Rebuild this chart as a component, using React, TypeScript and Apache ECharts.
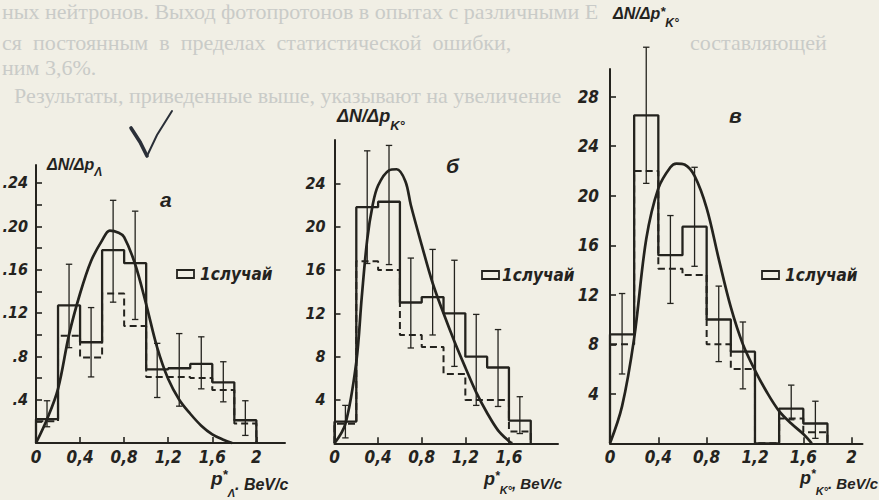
import React, { useEffect, useRef } from 'react';
import * as echarts from 'echarts';

// ---------- Panel а : Λ ----------
const binEdgesA = [0, 0.2, 0.4, 0.6, 0.8, 1.0, 1.2, 1.4, 1.6, 1.8, 2.0];
const solidA = [0.022, 0.127, 0.093, 0.178, 0.166, 0.068, 0.069, 0.073, 0.056, 0.021];
const dashedA = [0.02, 0.099, 0.079, 0.138, 0.108, 0.061, 0.061, 0.06, 0.049, 0.018];
const errXA = [0.1, 0.3, 0.5, 0.7, 0.9, 1.1, 1.3, 1.5, 1.7, 1.9];
const errLoA = [0.015, 0.088, 0.061, 0.13, 0.114, 0.042, 0.034, 0.05, 0.038, 0.007];
const errHiA = [0.039, 0.165, 0.125, 0.224, 0.214, 0.092, 0.101, 0.098, 0.075, 0.039];
const curveXA = [0, 0.1, 0.2, 0.3, 0.4, 0.5, 0.6, 0.67, 0.75, 0.8, 0.9, 1.0, 1.1, 1.2, 1.3, 1.4, 1.5, 1.6, 1.7, 1.78];
const curveYA = [0, 0.022, 0.05, 0.1, 0.138, 0.168, 0.187, 0.196, 0.194, 0.19, 0.165, 0.128, 0.088, 0.059, 0.04, 0.027, 0.016, 0.008, 0.003, 0];
const xTickValsA = [0.4, 0.8, 1.2, 1.6, 2.0];
const xLabelValsA = [0, 0.4, 0.8, 1.2, 1.6, 2.0];
const xLabelsA = ['0', '0,4', '0,8', '1,2', '1,6', '2'];
const yTickValsA = [0.02, 0.04, 0.06, 0.08, 0.1, 0.12, 0.14, 0.16, 0.18, 0.2, 0.22, 0.24];
const yLabelValsA = [0.04, 0.08, 0.12, 0.16, 0.2, 0.24];
const yLabelsA = ['.4', '.8', '.12', '.16', '.20', '.24'];

// ---------- Panel б : K° (ΛK°) ----------
const binEdgesB = [0, 0.2, 0.4, 0.6, 0.8, 1.0, 1.2, 1.4, 1.6, 1.8];
const solidB = [2.0, 21.8, 22.3, 13.0, 13.5, 12.0, 8.0, 7.0, 2.1];
const dashedB = [1.8, 16.8, 16.0, 10.0, 8.9, 6.4, 4.0, 4.0, 1.1];
const errXB = [0.1, 0.3, 0.5, 0.7, 0.9, 1.1, 1.3, 1.5, 1.7];
const errLoB = [0.5, 16.6, 16.5, 8.8, 10.0, 7.1, 3.5, 3.4, 0.9];
const errHiB = [3.5, 27.0, 27.5, 17.1, 17.9, 16.9, 11.9, 10.5, 4.3];
const curveXB = [0, 0.1, 0.2, 0.25, 0.3, 0.35, 0.4, 0.5, 0.57, 0.65, 0.7, 0.8, 0.9, 1.0, 1.1, 1.2, 1.3, 1.4, 1.5, 1.6, 1.63];
const curveYB = [0, 1.8, 7.5, 13.5, 18.8, 22.0, 23.8, 25.2, 25.3, 24.2, 22.0, 18.3, 14.8, 12.0, 9.4, 7.0, 4.7, 2.8, 1.2, 0.2, 0];
const xTickValsB = [0.4, 0.8, 1.2, 1.6];
const xLabelValsB = [0, 0.4, 0.8, 1.2, 1.6];
const xLabelsB = ['0', '0,4', '0,8', '1,2', '1,6'];
const yTickValsB = [4, 8, 12, 16, 20, 24];
const yLabelsB = ['4', '8', '12', '16', '20', '24'];

// ---------- Panel в : K° (K°K°) ----------
const binEdgesC = [0, 0.2, 0.4, 0.6, 0.8, 1.0, 1.2, 1.4, 1.6, 1.8];
const solidC = [8.8, 26.5, 15.2, 17.5, 10.0, 7.4, 0, 2.8, 1.6];
const dashedC = [8.0, 22.0, 14.1, 13.6, 8.0, 6.0, 0, 2.0, 0.9];
const errXC = [0.1, 0.3, 0.5, 0.7, 0.9, 1.1, 1.5, 1.7];
const errLoC = [5.6, 21.0, 11.3, 14.3, 6.6, 4.4, 1.9, 0.4];
const errHiC = [12.1, 32.0, 18.4, 22.3, 12.7, 9.8, 4.7, 3.4];
const curveXC = [0, 0.1, 0.2, 0.3, 0.4, 0.5, 0.55, 0.62, 0.7, 0.8, 0.9, 1.0, 1.1, 1.2, 1.3, 1.4, 1.5, 1.6, 1.67];
const curveYC = [0, 3.0, 8.5, 16.5, 20.6, 22.3, 22.6, 22.5, 21.6, 19.0, 14.9, 11.0, 8.0, 5.9, 4.1, 2.6, 1.6, 0.75, 0];
const xTickValsC = [0.4, 0.8, 1.2, 1.6, 2.0];
const xLabelValsC = [0, 0.4, 0.8, 1.2, 1.6, 2.0];
const xLabelsC = ['0', '0,4', '0,8', '1,2', '1,6', '2'];
const yTickValsC = [4, 8, 12, 16, 20, 24, 28];
const yLabelsC = ['4', '8', '12', '16', '20', '24', '28'];

const legendText = '1случай';

const INK = '#24231e';
const PAPER = '#f1efe5';
const GHOST = '#c9cbc8';
const NARROW = '"Liberation Sans Narrow","DejaVu Sans Condensed",sans-serif';
const SANS = '"Liberation Sans","DejaVu Sans",sans-serif';
const SERIF = '"Liberation Serif","DejaVu Serif",serif';

function labelFor(v: number, vals: number[], labels: string[]) {
  const i = vals.findIndex((t) => Math.abs(t - v) < 1e-6);
  return i >= 0 ? labels[i] : '';
}

function stepData(edges: number[], vals: number[]) {
  const d: number[][] = [[edges[0], 0]];
  vals.forEach((v, i) => d.push([edges[i], v]));
  d.push([edges[vals.length], 0]);
  return d;
}

function xAxisOf(gi: number, max: number, tickVals: number[], labelVals: number[], labels: string[]) {
  return {
    type: 'value', gridIndex: gi, min: 0, max, interval: 0.2,
    axisLine: { show: true, onZero: false, lineStyle: { color: INK, width: 2 } },
    axisTick: { show: true, inside: true, length: 6, customValues: tickVals, lineStyle: { color: INK, width: 1.6 } },
    axisLabel: {
      show: true, customValues: labelVals, margin: 7, showMaxLabel: true, showMinLabel: true, hideOverlap: false,
      formatter: (v: number) => labelFor(v, labelVals, labels),
      color: INK, fontSize: 17, lineHeight: 14, fontFamily: NARROW, fontStyle: 'italic', fontWeight: 'bold',
    },
    splitLine: { show: false },
  };
}

function yAxisOf(gi: number, max: number, interval: number, tickVals: number[], labelVals: number[], labels: string[], size: number, margin: number) {
  return {
    type: 'value', gridIndex: gi, min: 0, max, interval,
    axisLine: { show: true, onZero: false, lineStyle: { color: INK, width: 2 } },
    axisTick: { show: true, inside: true, length: 6, customValues: tickVals, lineStyle: { color: INK, width: 1.6 } },
    axisLabel: {
      show: true, customValues: labelVals, margin, showMaxLabel: true, showMinLabel: true, hideOverlap: false,
      formatter: (v: number) => labelFor(v, labelVals, labels),
      color: INK, fontSize: size, fontFamily: NARROW, fontStyle: 'italic', fontWeight: 'bold',
    },
    splitLine: { show: false },
  };
}

function errRender(params: any, api: any) {
  const x = api.value(0);
  const lo = api.value(1);
  const hi = api.value(2);
  const p1 = api.coord([x, hi]);
  const p2 = api.coord([x, lo]);
  const w = 3.2;
  const style = { stroke: INK, lineWidth: 1.3 };
  return {
    type: 'group',
    children: [
      { type: 'line', shape: { x1: p1[0], y1: p1[1], x2: p2[0], y2: p2[1] }, style },
      { type: 'line', shape: { x1: p1[0] - w, y1: p1[1], x2: p1[0] + w, y2: p1[1] }, style },
      { type: 'line', shape: { x1: p2[0] - w, y1: p2[1], x2: p2[0] + w, y2: p2[1] }, style },
    ],
  };
}

function panelSeries(gi: number, edges: number[], solid: number[], dashed: number[], ex: number[], elo: number[], ehi: number[], cx: number[], cy: number[]) {
  return [
    {
      type: 'line', xAxisIndex: gi, yAxisIndex: gi, step: 'end', symbol: 'none', clip: false,
      data: stepData(edges, solid), lineStyle: { color: INK, width: 2.3 }, z: 3,
    },
    {
      type: 'line', xAxisIndex: gi, yAxisIndex: gi, step: 'end', symbol: 'none', clip: false,
      data: stepData(edges, dashed), lineStyle: { color: INK, width: 2, type: [7, 4] }, z: 3,
    },
    {
      type: 'custom', xAxisIndex: gi, yAxisIndex: gi, clip: false, renderItem: errRender,
      encode: { x: 0, y: [1, 2] },
      data: ex.map((x, i) => [x, elo[i], ehi[i]]), z: 4,
    },
    {
      type: 'line', xAxisIndex: gi, yAxisIndex: gi, smooth: 0.35, symbol: 'none', clip: false,
      data: cx.map((x, i) => [x, cy[i]]), lineStyle: { color: INK, width: 2.7 }, z: 5,
    },
  ];
}

const tok = (size: number, pad: number, family = SANS) => ({
  fontSize: size, fontFamily: family, fontStyle: 'italic', fontWeight: 'bold', fill: INK,
  padding: [pad, 0, 0, 0], verticalAlign: 'top',
});

function txt(x: number, y: number, text: string, size: number, o: any = {}) {
  return {
    type: 'text', x, y, silent: true, z: o.z ?? 20,
    style: {
      text, fontSize: size, fontFamily: o.family || NARROW,
      fontStyle: o.italic === false ? 'normal' : 'italic',
      fontWeight: o.weight || 'bold', fill: o.fill || INK,
      textAlign: 'left', align: 'left',
      textVerticalAlign: o.valign || 'middle', verticalAlign: o.valign || 'middle',
      rich: o.rich,
    },
  };
}

function richTxt(x: number, y: number, text: string, rich: any) {
  return txt(x, y, text, 16, { family: SANS, valign: 'top', rich });
}

function ghost(x: number, y: number, text: string, size: number) {
  return txt(x, y, text, size, { family: SERIF, italic: false, weight: 'normal', fill: GHOST, z: 0 });
}

function legendBox(x: number, y: number) {
  return {
    type: 'rect', silent: true, z: 20,
    shape: { x, y, width: 17, height: 8 },
    style: { fill: 'none', stroke: INK, lineWidth: 1.8 },
  };
}

export default function App() {
  const ref = useRef<HTMLDivElement>(null);

  useEffect(() => {
    if (!ref.current) return;
    const chart = echarts.init(ref.current, null, { renderer: 'svg', width: 879, height: 500 });

    const option: any = {
      animation: false,
      backgroundColor: PAPER,
      grid: [
        { left: 36, top: 165, width: 249, height: 278, containLabel: false, outerBoundsMode: 'none' },
        { left: 334.5, top: 140, width: 223.5, height: 303.3, containLabel: false, outerBoundsMode: 'none' },
        { left: 610, top: 69, width: 252.5, height: 374.3, containLabel: false, outerBoundsMode: 'none' },
      ],
      xAxis: [
        xAxisOf(0, 2.26, xTickValsA, xLabelValsA, xLabelsA),
        xAxisOf(1, 2.05, xTickValsB, xLabelValsB, xLabelsB),
        xAxisOf(2, 2.09, xTickValsC, xLabelValsC, xLabelsC),
      ],
      yAxis: [
        yAxisOf(0, 0.2566, 0.02, yTickValsA, yLabelValsA, yLabelsA, 16, 8),
        yAxisOf(1, 28, 4, yTickValsB, yTickValsB, yLabelsB, 16, 9),
        yAxisOf(2, 30.24, 4, yTickValsC, yTickValsC, yLabelsC, 17, 11),
      ],
      series: [
        ...panelSeries(0, binEdgesA, solidA, dashedA, errXA, errLoA, errHiA, curveXA, curveYA),
        ...panelSeries(1, binEdgesB, solidB, dashedB, errXB, errLoB, errHiB, curveXB, curveYB),
        ...panelSeries(2, binEdgesC, solidC, dashedC, errXC, errLoC, errHiC, curveXC, curveYC),
      ],
      graphic: [
        // faint show-through text of the scanned page (top band)
        ghost(2, 11, 'ных нейтронов. Выход фотопротонов в опытах с различными E', 22),
        ghost(2, 42, 'ся  постоянным  в  пределах  статистической  ошибки,', 22),
        ghost(690, 42, 'составляющей', 22),
        ghost(2, 67, 'ним 3,6%.', 22),
        ghost(14, 95, 'Результаты, приведенные выше, указывают на увеличение', 22),

        // hand-drawn check mark
        {
          type: 'polyline', silent: true, z: 20,
          shape: { points: [[131, 128], [140, 142], [147, 156]] },
          style: { stroke: '#2a2f38', lineWidth: 3.6, fill: 'none', lineCap: 'round' },
        },
        {
          type: 'polyline', silent: true, z: 20,
          shape: { points: [[147, 156], [157, 135], [172, 111]] },
          style: { stroke: '#2a2f38', lineWidth: 2, fill: 'none', lineCap: 'round' },
        },

        // panel а
        richTxt(47, 156, '{m|ΔN/Δp}{s|Λ}', { m: tok(16, 0), s: tok(12, 10) }),
        txt(160, 199, 'а', 21, { family: SANS }),
        legendBox(177, 270),
        txt(200, 274, legendText, 17),
        richTxt(211, 468, '{p|p}{u|*}{s|Λ}{t|. BeV/c}', { p: tok(19, 1), u: tok(13, 0), s: tok(11, 19), t: tok(16, 8) }),

        // panel б
        richTxt(484, 470, '{p|p}{u|*}{s|K°}{t|, BeV/c}', { p: tok(18, 0), u: tok(12, 0), s: tok(11, 14), t: tok(15, 6) }),
        richTxt(337, 107, '{m|ΔN/Δp}{s|K°}', { m: tok(18, 0), s: tok(13, 12) }),
        txt(446, 165, 'б', 21, { family: SANS }),
        legendBox(482, 271),
        txt(502, 275, legendText, 17),

        // panel в
        richTxt(613, 5, '{m|ΔN/Δp}{u|*}{s|K°}', { m: tok(16, 0), u: tok(13, 0), s: tok(12, 12) }),
        txt(729, 115, 'в', 21, { family: SANS }),
        legendBox(762, 271),
        txt(785, 275, legendText, 17),
        richTxt(800, 468, '{p|p}{u|*}{s|K°}{t|. BeV/c}', { p: tok(18, 1), u: tok(12, 0), s: tok(11, 17), t: tok(15, 8) }),
      ],
    };

    chart.setOption(option);
    return () => chart.dispose();
  }, []);

  return (
    <div
      ref={ref}
      style={{ position: 'absolute', left: 0, top: 0, width: 879, height: 500, background: PAPER }}
    />
  );
}
